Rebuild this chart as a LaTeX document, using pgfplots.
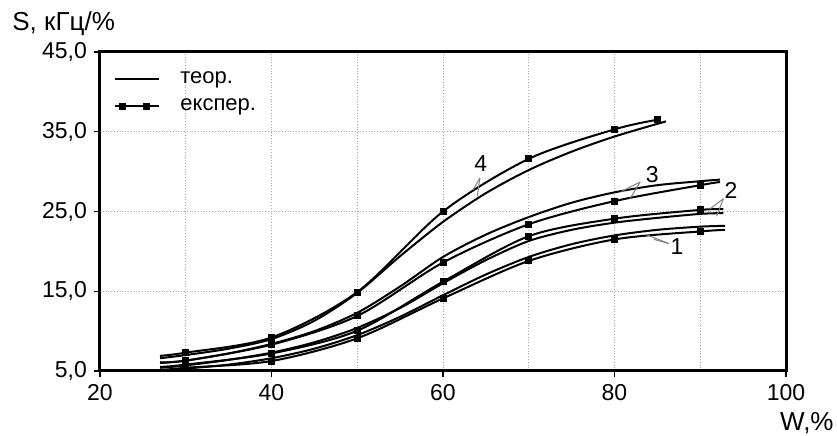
\documentclass[border=0pt]{standalone}
\usepackage{fontspec}
\setmainfont{Liberation Sans}
\usepackage{pgfplots}
\pgfplotsset{compat=1.18}

\begin{document}
\begin{tikzpicture}
\begin{axis}[
  scale only axis,
  width=343pt, height=159.5pt,
  xmin=20, xmax=100, ymin=5, ymax=45,
  xtick={20,40,...,100}, minor xtick={30,50,70,90},
  ytick={5,15,25,35,45},
  xtick pos=bottom, ytick pos=left,
  tick align=outside, major tick length=3pt, minor tick length=0pt,
  tick style={black, line width=0.6pt},
  grid=both,
  major grid style={densely dotted, gray!70, line width=0.4pt},
  minor grid style={densely dotted, gray!70, line width=0.4pt},
  axis line style={line width=1.5pt},
  tick label style={font=\fontsize{11.5}{13}\selectfont},
  yticklabel style={/pgf/number format/.cd, fixed, fixed zerofill, precision=1, use comma},
  /pgf/number format/assume math mode=true,
  every axis plot/.append style={black, line width=1pt},
  legend style={draw=none, fill=none, font=\fontsize{11}{13}\selectfont,
    at={(rel axis cs:0,1)}, anchor=north west, xshift=4pt, yshift=-5.8pt,
    row sep=2pt,
    /tikz/every odd column/.append style={column sep=8pt}},
  legend cell align=left,
  clip=false,
]

% legend samples
\addlegendimage{legend image code/.code={
  \draw[line width=1pt] (0pt,0pt) -- (22pt,0pt);}}
\addlegendentry{теор.}
\addlegendimage{legend image code/.code={
  \draw[line width=1pt] (0pt,0pt) -- (22pt,0pt);
  \fill (3.5pt,0pt) +(-1.25pt,-1.25pt) rectangle +(1.25pt,1.25pt);
  \fill (15.5pt,0pt) +(-1.25pt,-1.25pt) rectangle +(1.25pt,1.25pt);}}
\addlegendentry{експер.}

% curve 1
\addplot[smooth, forget plot] coordinates {
  (27,5.0) (30,5.3) (35,5.8) (40,6.6) (45,7.8) (50,9.5) (55,11.8) (60,14.5)
  (65,17.1) (70,19.3) (75,20.9) (80,22.0) (85,22.7) (90,23.1) (92.9,23.2)
};
\addplot[smooth, mark=square*, mark size=1.25pt, mark indices={2,...,8}, forget plot] coordinates {
  (27,5.1) (30,5.4) (40,6.25) (50,9.1) (60,14.1) (70,18.8) (80,21.5) (90,22.5) (92.9,22.7)
};

% curve 2
\addplot[smooth, forget plot] coordinates {
  (27,5.4) (30,5.7) (35,6.4) (40,7.3) (45,8.6) (50,10.4) (55,12.9) (60,16.0)
  (65,18.9) (70,21.3) (75,22.7) (80,23.6) (85,24.2) (90,24.7) (92.7,24.8)
};
\addplot[smooth, mark=square*, mark size=1.25pt, mark indices={2,...,8}, forget plot] coordinates {
  (27,5.5) (30,5.8) (40,7.2) (50,10.05) (60,16.2) (70,21.9) (80,24.1) (90,25.2) (92.7,25.3)
};

% curve 3
\addplot[smooth, forget plot] coordinates {
  (27,6.0) (30,6.3) (35,7.2) (40,8.4) (45,10.0) (50,12.3) (55,15.6) (60,19.3)
  (65,22.1) (70,24.3) (75,26.1) (80,27.4) (85,28.3) (90,28.8) (92.3,29.0)
};
\addplot[smooth, mark=square*, mark size=1.25pt, mark indices={2,...,8}, forget plot] coordinates {
  (27,6.1) (30,6.3) (40,8.3) (50,11.9) (60,18.6) (70,23.4) (80,26.3) (90,28.3) (92.3,28.7)
};

% curve 4
\addplot[smooth, forget plot] coordinates {
  (27,6.6) (30,7.0) (35,7.8) (40,9.0) (45,11.3) (50,14.8) (55,19.4) (60,23.7)
  (65,27.3) (70,30.2) (75,32.5) (80,34.4) (86,36.3)
};
\addplot[smooth, mark=square*, mark size=1.25pt, mark indices={2,...,8}, forget plot] coordinates {
  (27,6.9) (30,7.3) (40,9.2) (50,14.9) (60,25.0) (70,31.6) (80,35.3) (85,36.5)
};

% curve labels with leaders
\draw[gray, line width=0.5pt] (axis cs:64.3,29.2) -- (axis cs:63.5,27.7);
\draw[gray, line width=0.5pt] (axis cs:64.3,29.2) -- (axis cs:64.0,26.9);
\node[font=\fontsize{11.5}{13}\selectfont] at (axis cs:64.4,31.0) {4};
\draw[gray, line width=0.5pt] (axis cs:83.0,28.7) -- (axis cs:80.8,27.5);
\draw[gray, line width=0.5pt] (axis cs:83.0,28.7) -- (axis cs:81.8,26.6);
\node[font=\fontsize{11.5}{13}\selectfont] at (axis cs:84.4,29.6) {3};
\draw[gray, line width=0.5pt] (axis cs:92.7,26.6) -- (axis cs:91.1,25.3);
\draw[gray, line width=0.5pt] (axis cs:92.7,26.6) -- (axis cs:91.9,24.4);
\node[font=\fontsize{11.5}{13}\selectfont] at (axis cs:93.6,27.6) {2};
\draw[gray, line width=0.5pt] (axis cs:86.3,21.0) -- (axis cs:83.7,22.1);
\draw[gray, line width=0.5pt] (axis cs:86.3,21.0) -- (axis cs:84.6,21.5);
\node[font=\fontsize{11.5}{13}\selectfont] at (axis cs:87.3,20.6) {1};

% axis titles
\node[font=\fontsize{13}{15}\selectfont, anchor=base west, inner sep=0pt]
  at ([xshift=-44pt, yshift=10.7pt]rel axis cs:0,1) {S, кГц/\%};
\node[font=\fontsize{13}{15}\selectfont, anchor=base east, inner sep=0pt]
  at ([xshift=24pt, yshift=-30pt]rel axis cs:1,0) {W,\%};

% page extent
\path ([xshift=-50pt, yshift=26pt]rel axis cs:0,1) ([xshift=25.5pt, yshift=-32.5pt]rel axis cs:1,0);
\end{axis}
\end{tikzpicture}
\end{document}
